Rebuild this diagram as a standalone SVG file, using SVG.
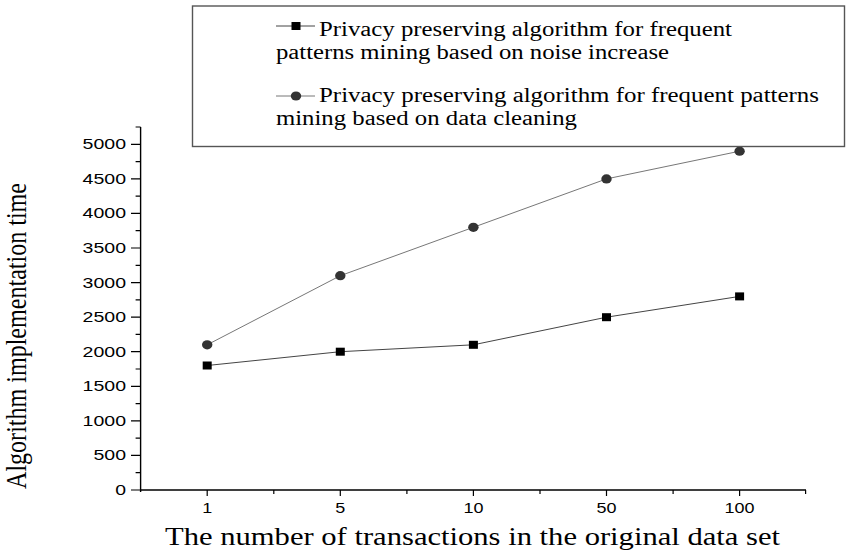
<svg xmlns="http://www.w3.org/2000/svg" width="849" height="557" viewBox="0 0 849 557">
<style>
.ax{stroke:#000;stroke-width:1.4;fill:none}
.tk{stroke:#000;stroke-width:1.2}
.yl{font-family:"Liberation Sans",Arial,sans-serif;font-size:15px;fill:#000;text-anchor:end}
.xl{font-family:"Liberation Sans",Arial,sans-serif;font-size:15px;fill:#000;text-anchor:middle}
.lg{font-family:"Liberation Serif","Times New Roman",serif;font-size:20px;fill:#000}
.ti{font-family:"Liberation Serif","Times New Roman",serif;fill:#000}
.s1{stroke:#444;stroke-width:1;fill:none}
.s2{stroke:#777;stroke-width:1;fill:none}
.sq{fill:#000}
.ci{fill:#333}
</style>
<defs>
<rect id="sq" x="-4.5" y="-4" width="9" height="8" class="sq"/>
<ellipse id="ci" rx="5.2" ry="4.6" class="ci"/>
</defs>
<rect width="849" height="557" fill="#fff"/>

<g id="axes">
<path class="ax" d="M140.6,127 V492 M140.6,490 H806"/>
<g class="tk">
<path d="M131,490H140.6 M131,455.4H140.6 M131,420.9H140.6 M131,386.3H140.6 M131,351.7H140.6 M131,317.2H140.6 M131,282.6H140.6 M131,248H140.6 M131,213.4H140.6 M131,178.9H140.6 M131,144.3H140.6"/>
<path d="M135.6,472.7H140.6 M135.6,438.1H140.6 M135.6,403.6H140.6 M135.6,369H140.6 M135.6,334.4H140.6 M135.6,299.9H140.6 M135.6,265.3H140.6 M135.6,230.7H140.6 M135.6,196.2H140.6 M135.6,161.6H140.6 M135.6,127H140.6"/>
<path d="M207.2,490V496 M340.3,490V496 M473.4,490V496 M606.5,490V496 M739.6,490V496"/>
<path d="M273.8,490V494 M406.9,490V494 M540,490V494 M673.1,490V494 M805.6,490V494"/>
</g>
<g class="yl">
<text x="126" y="149.3" textLength="43.4" lengthAdjust="spacingAndGlyphs">5000</text>
<text x="126" y="183.9" textLength="43.4" lengthAdjust="spacingAndGlyphs">4500</text>
<text x="126" y="218.4" textLength="43.4" lengthAdjust="spacingAndGlyphs">4000</text>
<text x="126" y="253" textLength="43.4" lengthAdjust="spacingAndGlyphs">3500</text>
<text x="126" y="287.6" textLength="43.4" lengthAdjust="spacingAndGlyphs">3000</text>
<text x="126" y="322.2" textLength="43.4" lengthAdjust="spacingAndGlyphs">2500</text>
<text x="126" y="356.7" textLength="43.4" lengthAdjust="spacingAndGlyphs">2000</text>
<text x="126" y="391.3" textLength="43.4" lengthAdjust="spacingAndGlyphs">1500</text>
<text x="126" y="425.9" textLength="43.4" lengthAdjust="spacingAndGlyphs">1000</text>
<text x="126" y="460.4" textLength="32.5" lengthAdjust="spacingAndGlyphs">500</text>
<text x="126" y="495" textLength="10.8" lengthAdjust="spacingAndGlyphs">0</text>
</g>
<g class="xl">
<text x="207.2" y="513" textLength="10" lengthAdjust="spacingAndGlyphs">1</text>
<text x="340.3" y="513" textLength="10" lengthAdjust="spacingAndGlyphs">5</text>
<text x="473.4" y="513" textLength="20" lengthAdjust="spacingAndGlyphs">10</text>
<text x="606.5" y="513" textLength="20" lengthAdjust="spacingAndGlyphs">50</text>
<text x="739.6" y="513" textLength="30" lengthAdjust="spacingAndGlyphs">100</text>
</g>
<text class="ti" x="165" y="545" font-size="25" textLength="615" lengthAdjust="spacingAndGlyphs">The number of transactions in the original data set</text>
<g transform="translate(26,336) scale(1.24,1) rotate(-90)">
<text class="ti" x="0" y="0" font-size="24" text-anchor="middle" textLength="306" lengthAdjust="spacingAndGlyphs">Algorithm implementation time</text>
</g>
</g>

<g id="connectors">
<polyline class="s1" points="207.2,365.5 340.3,351.7 473.4,344.8 606.5,317.2 739.6,296.4"/>
<polyline class="s2" points="207.2,344.8 340.3,275.7 473.4,227.3 606.5,178.9 739.6,151.2"/>
</g>

<g id="series-noise">
<use href="#sq" x="207.2" y="365.5"/>
<use href="#sq" x="340.3" y="351.7"/>
<use href="#sq" x="473.4" y="344.8"/>
<use href="#sq" x="606.5" y="317.2"/>
<use href="#sq" x="739.6" y="296.4"/>
</g>
<g id="series-cleaning">
<use href="#ci" x="207.2" y="344.8"/>
<use href="#ci" x="340.3" y="275.7"/>
<use href="#ci" x="473.4" y="227.3"/>
<use href="#ci" x="606.5" y="178.9"/>
<use href="#ci" x="739.6" y="151.2"/>
</g>

<g id="legend">
<rect x="192.5" y="6" width="652" height="140.5" fill="none" stroke="#555" stroke-width="1.4"/>
<path class="s1" d="M276,26H315"/>
<use href="#sq" x="296" y="26"/>
<text class="lg" x="319" y="36" textLength="413" lengthAdjust="spacingAndGlyphs">Privacy preserving algorithm for frequent</text>
<text class="lg" x="276" y="58.5" textLength="393" lengthAdjust="spacingAndGlyphs">patterns mining based on noise increase</text>
<path class="s2" d="M276,96H315"/>
<use href="#ci" x="296" y="96"/>
<text class="lg" x="319" y="102" textLength="500" lengthAdjust="spacingAndGlyphs">Privacy preserving algorithm for frequent patterns</text>
<text class="lg" x="276" y="124.5" textLength="301" lengthAdjust="spacingAndGlyphs">mining based on data cleaning</text>
</g>
</svg>
